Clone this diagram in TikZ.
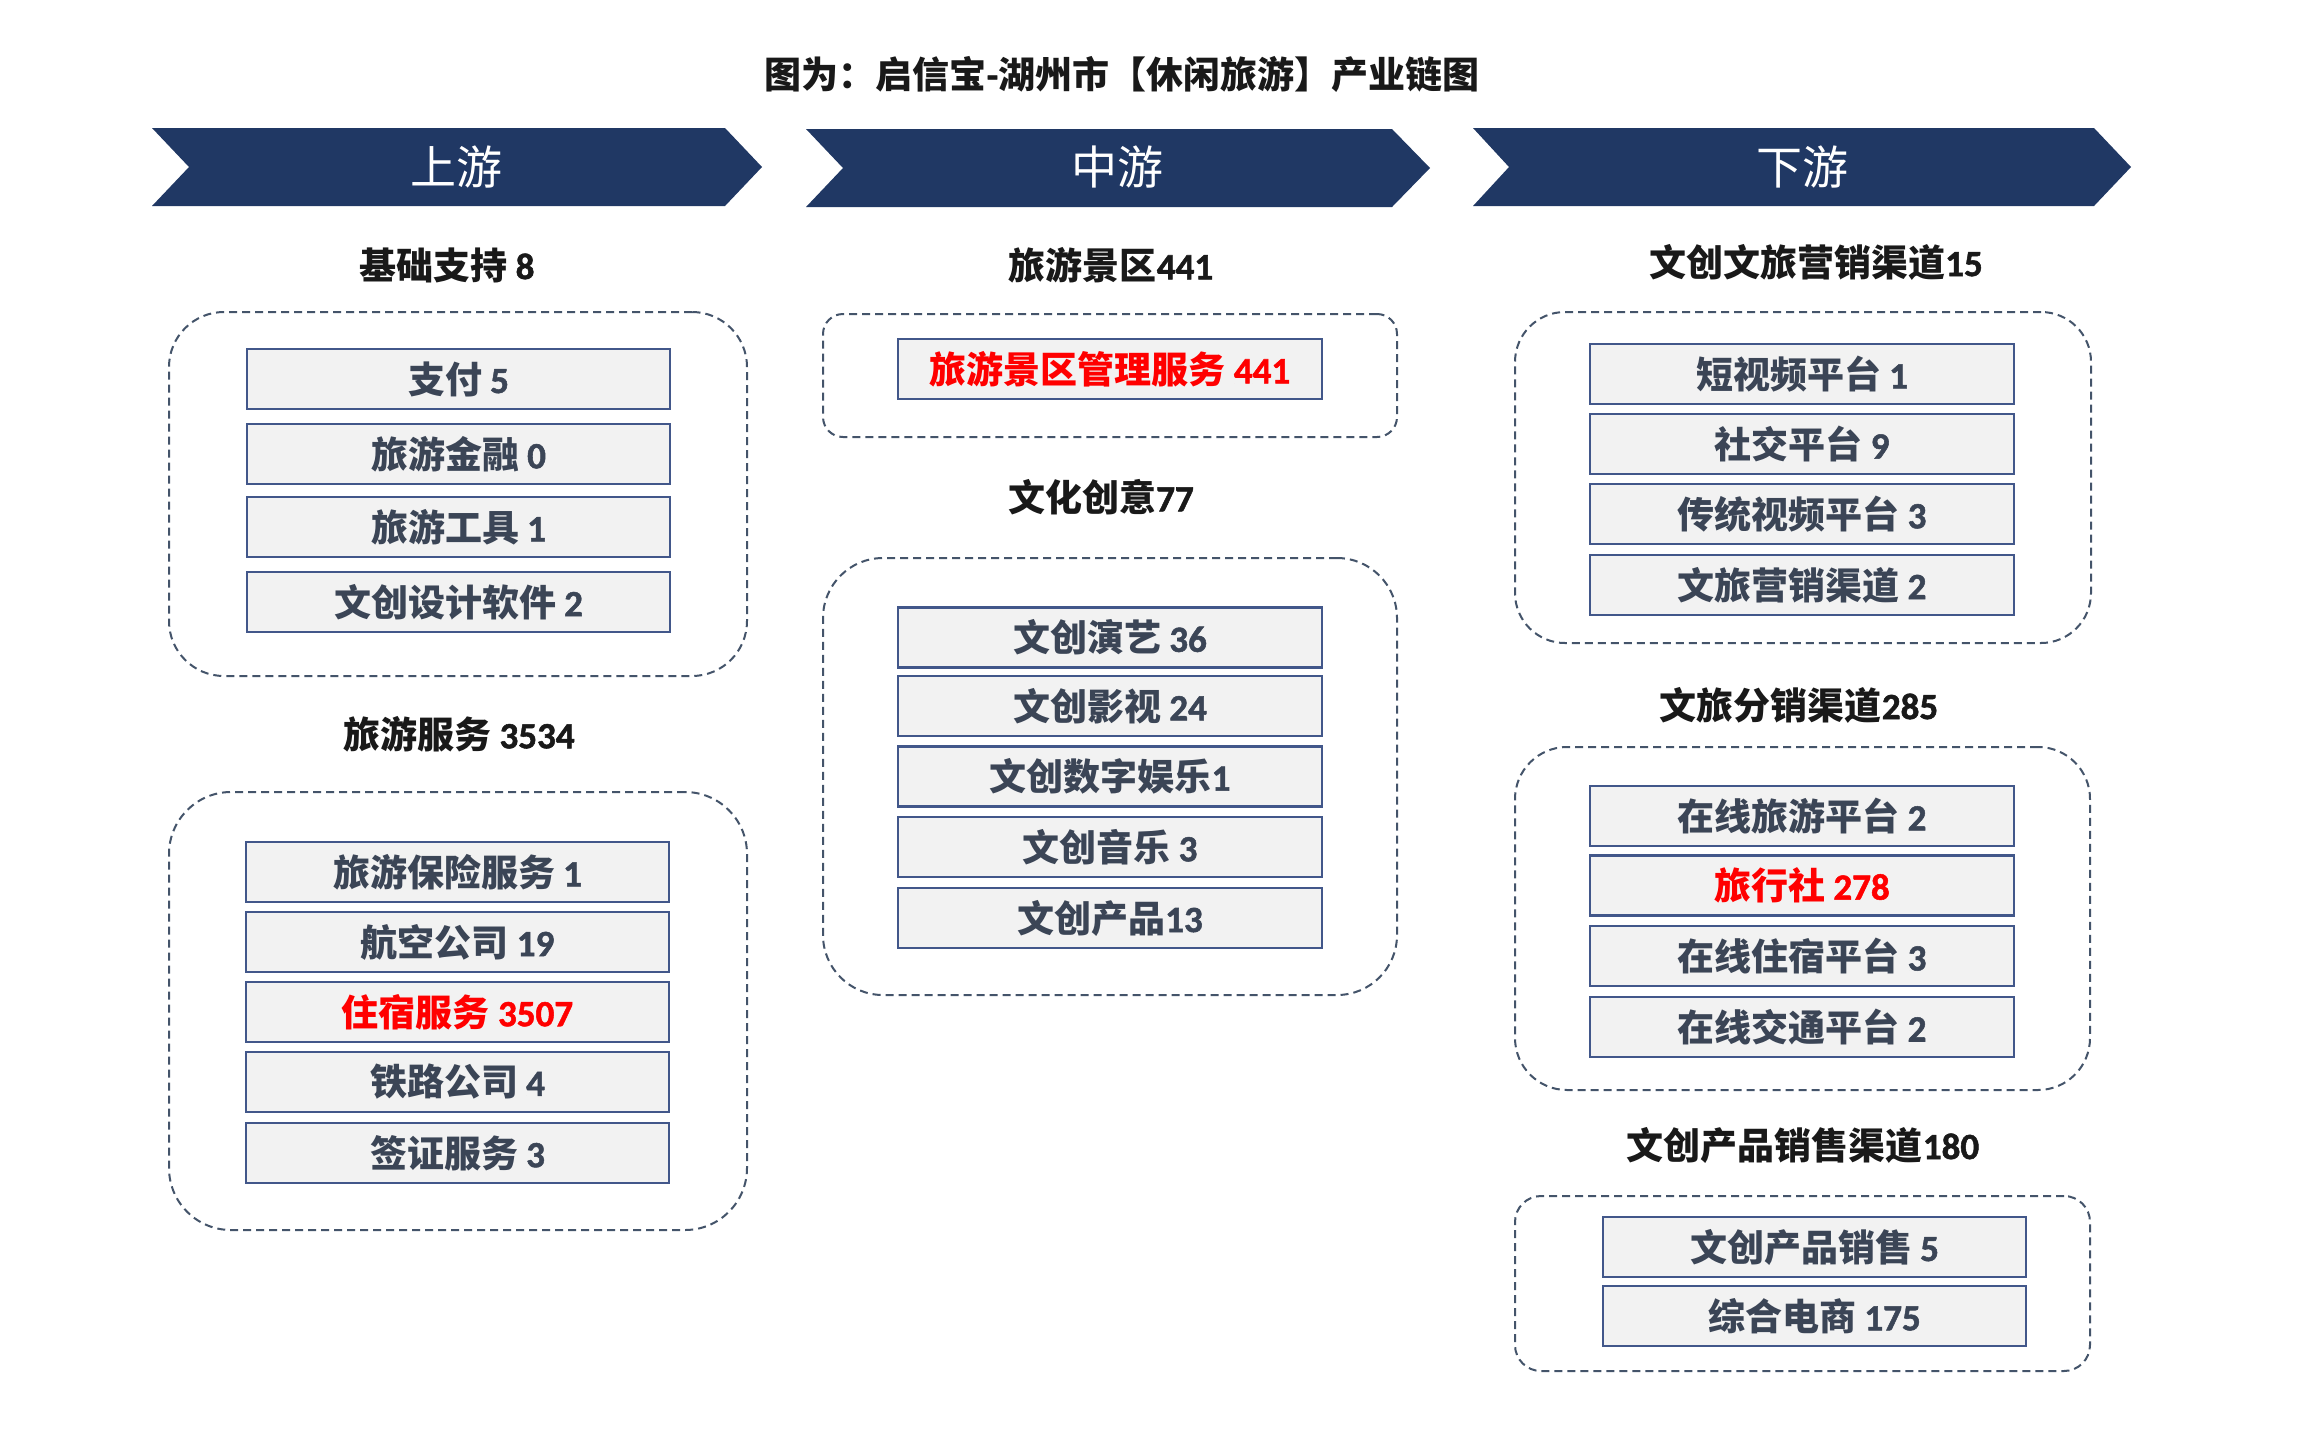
\documentclass[tikz,border=0pt]{standalone}
\usepackage{fontspec}
\newfontfamily\cjk{Noto Sans CJK SC}
\newfontfamily\calf{Carlito Bold}[FakeBold=1.4]
\definecolor{navy}{HTML}{203864}
\definecolor{itemborder}{HTML}{42578A}
\definecolor{itemtext}{HTML}{3B4556}
\definecolor{dashc}{HTML}{44546A}
\definecolor{itemfill}{HTML}{F2F2F2}
\definecolor{redt}{HTML}{FF0000}
\newcommand\lb[2]{{\cjk #1}{\calf #2}}
\newcommand\lbs[2]{{\cjk #1}\hspace{0.22em}{\calf #2}}
\begin{document}
\begin{tikzpicture}[x=1pt,y=-1pt,
  itembox/.style={draw=itemborder, line width=2.6pt, fill=itemfill,
    minimum width=423pt, minimum height=60pt, inner sep=0pt,
    text=itemtext, font=\fontsize{37}{40}\selectfont\bfseries},
  hotbox/.style={itembox, text=redt},
  hdr/.style={inner sep=0pt, text=black!90, font=\fontsize{37}{40}\selectfont\bfseries},
  grp/.style={draw=dashc, line width=2pt, dash pattern=on 8pt off 5pt, inner sep=0pt},
  chev/.style={fill=navy},
  chevtext/.style={text=white, inner sep=0pt, font=\fontsize{46}{50}\selectfont\cjk}
]
\useasboundingbox (0,0) rectangle (2308,1444);
\fill[white] (0,0) rectangle (2308,1444);

% title
\node[hdr] (title) at (1122,74) {{\cjk 图为：启信宝}{\calf -}{\cjk 湖州市【休闲旅游】产业链图}};

% chevrons
\fill[chev] (152,128) -- (725,128) -- (762,167) -- (725,206) -- (152,206) -- (189,167) -- cycle;
\fill[chev] (806,129) -- (1392,129) -- (1430,168) -- (1392,207) -- (806,207) -- (843,168) -- cycle;
\fill[chev] (1473,128) -- (2094,128) -- (2131,167) -- (2094,206) -- (1473,206) -- (1509,167) -- cycle;
\node[chevtext] (up) at (456,167) {上游};
\node[chevtext] (mid) at (1117,167) {中游};
\node[chevtext] (down) at (1802,167) {下游};

% ---------- upstream ----------
\node[hdr] (h1) at (447,265) {\lbs{基础支持}{8}};
\node[grp, minimum width=578pt, minimum height=364pt, rounded corners=55pt] (g1) at (458,494) {};
\node[itembox] (a1) at (458.5,379) {\lbs{支付}{5}};
\node[itembox] (a2) at (458.5,454) {\lbs{旅游金融}{0}};
\node[itembox] (a3) at (458.5,527) {\lbs{旅游工具}{1}};
\node[itembox] (a4) at (458.5,602) {\lbs{文创设计软件}{2}};

\node[hdr] (h2) at (459,734) {\lbs{旅游服务}{3534}};
\node[grp, minimum width=578pt, minimum height=438pt, rounded corners=62pt] (g2) at (458,1011) {};
\node[itembox] (b1) at (457.5,872) {\lbs{旅游保险服务}{1}};
\node[itembox] (b2) at (457.5,942) {\lbs{航空公司}{19}};
\node[hotbox] (b3) at (457.5,1012) {\lbs{住宿服务}{3507}};
\node[itembox] (b4) at (457.5,1082) {\lbs{铁路公司}{4}};
\node[itembox] (b5) at (457.5,1153) {\lbs{签证服务}{3}};

% ---------- midstream ----------
\node[hdr] (h3) at (1111,265) {\lb{旅游景区}{441}};
\node[grp, minimum width=574pt, minimum height=123pt, rounded corners=20pt] (g3) at (1110,375.5) {};
\node[hotbox, minimum width=424pt] (c1) at (1110,369) {\lbs{旅游景区管理服务}{441}};

\node[hdr] (h4) at (1101,497) {\lb{文化创意}{77}};
\node[grp, minimum width=574pt, minimum height=437pt, rounded corners=60pt] (g4) at (1110,776.5) {};
\node[itembox, minimum width=424pt] (d1) at (1110,637.5) {\lbs{文创演艺}{36}};
\node[itembox, minimum width=424pt] (d2) at (1110,706) {\lbs{文创影视}{24}};
\node[itembox, minimum width=424pt] (d3) at (1110,776.5) {\lb{文创数字娱乐}{1}};
\node[itembox, minimum width=424pt] (d4) at (1110,847) {\lbs{文创音乐}{3}};
\node[itembox, minimum width=424pt] (d5) at (1110,918) {\lb{文创产品}{13}};

% ---------- downstream ----------
\node[hdr] (h5) at (1816,262) {\lb{文创文旅营销渠道}{15}};
\node[grp, minimum width=576pt, minimum height=331pt, rounded corners=50pt] (g5) at (1803,477.5) {};
\node[itembox, minimum width=424pt] (e1) at (1802,374) {\lbs{短视频平台}{1}};
\node[itembox, minimum width=424pt] (e2) at (1802,444) {\lbs{社交平台}{9}};
\node[itembox, minimum width=424pt] (e3) at (1802,514) {\lbs{传统视频平台}{3}};
\node[itembox, minimum width=424pt] (e4) at (1802,585) {\lbs{文旅营销渠道}{2}};

\node[hdr] (h6) at (1799,705) {\lb{文旅分销渠道}{285}};
\node[grp, minimum width=575pt, minimum height=343pt, rounded corners=52pt] (g6) at (1802.5,918.5) {};
\node[itembox, minimum width=424pt] (f1) at (1802,816) {\lbs{在线旅游平台}{2}};
\node[hotbox, minimum width=424pt] (f2) at (1802,885.5) {\lbs{旅行社}{278}};
\node[itembox, minimum width=424pt] (f3) at (1802,956) {\lbs{在线住宿平台}{3}};
\node[itembox, minimum width=424pt] (f4) at (1802,1027) {\lbs{在线交通平台}{2}};

\node[hdr] (h7) at (1803,1145) {\lb{文创产品销售渠道}{180}};
\node[grp, minimum width=575pt, minimum height=175pt, rounded corners=26pt] (g7) at (1802.5,1283.5) {};
\node[itembox, minimum width=423pt] (k1) at (1814.5,1247) {\lbs{文创产品销售}{5}};
\node[itembox, minimum width=423pt] (k2) at (1814.5,1316) {\lbs{综合电商}{175}};
\end{tikzpicture}
\end{document}
